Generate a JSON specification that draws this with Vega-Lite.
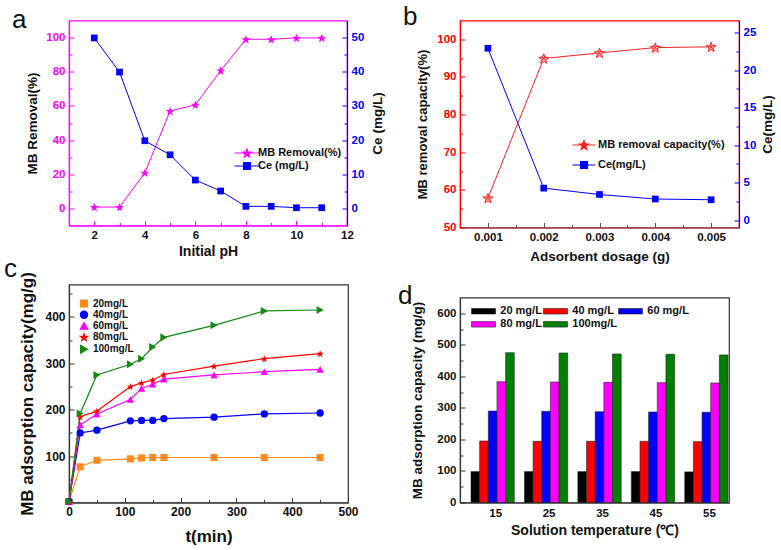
{
"$schema": "https://vega.github.io/schema/vega-lite/v6.json",
"background": "white",
"padding": {"left": 3, "top": 3.5, "right": 5, "bottom": 3},
"config": {
  "font": "Liberation Sans",
  "view": {"stroke": "#333", "strokeWidth": 1.2},
  "axis": {"grid": false, "labelFont": "Liberation Sans", "labelFontWeight": "bold", "labelFontSize": 11.5, "titleFont": "Liberation Sans", "titleFontWeight": "bold", "titleFontSize": 14, "labelColor": "#111", "titleColor": "#111", "domainColor": "#333", "tickColor": "#333", "labelFlush": false, "labelOverlap": false, "labelPadding": 9, "domainWidth": 1.2, "tickWidth": 1},
  "legend": {"labelFont": "Liberation Sans", "labelFontWeight": "bold", "labelColor": "#111", "padding": 0},
  "title": {"font": "Liberation Sans", "fontWeight": "normal", "fontSize": 26, "color": "#111", "anchor": "start", "frame": "group", "baseline": "alphabetic", "offset": 0}
},
"datasets": {
  "pa": [
    {"pH": 2, "series": "MB Removal(%)", "value": 0.8}, {"pH": 3, "series": "MB Removal(%)", "value": 0.8},
    {"pH": 4, "series": "MB Removal(%)", "value": 20.9}, {"pH": 5, "series": "MB Removal(%)", "value": 57.0},
    {"pH": 6, "series": "MB Removal(%)", "value": 60.7}, {"pH": 7, "series": "MB Removal(%)", "value": 80.7},
    {"pH": 8, "series": "MB Removal(%)", "value": 99.0}, {"pH": 9, "series": "MB Removal(%)", "value": 99.0},
    {"pH": 10, "series": "MB Removal(%)", "value": 99.8}, {"pH": 11, "series": "MB Removal(%)", "value": 99.8},
    {"pH": 2, "series": "Ce (mg/L)", "value": 49.9}, {"pH": 3, "series": "Ce (mg/L)", "value": 39.9},
    {"pH": 4, "series": "Ce (mg/L)", "value": 19.8}, {"pH": 5, "series": "Ce (mg/L)", "value": 15.7},
    {"pH": 6, "series": "Ce (mg/L)", "value": 8.3}, {"pH": 7, "series": "Ce (mg/L)", "value": 5.1},
    {"pH": 8, "series": "Ce (mg/L)", "value": 0.6}, {"pH": 9, "series": "Ce (mg/L)", "value": 0.6},
    {"pH": 10, "series": "Ce (mg/L)", "value": 0.2}, {"pH": 11, "series": "Ce (mg/L)", "value": 0.2}
  ],
  "pb": [
    {"dose": 0.001, "series": "MB removal capacity(%)", "value": 57.8}, {"dose": 0.002, "series": "MB removal capacity(%)", "value": 94.9},
    {"dose": 0.003, "series": "MB removal capacity(%)", "value": 96.4}, {"dose": 0.004, "series": "MB removal capacity(%)", "value": 97.8},
    {"dose": 0.005, "series": "MB removal capacity(%)", "value": 98.0},
    {"dose": 0.001, "series": "Ce(mg/L)", "value": 22.9}, {"dose": 0.002, "series": "Ce(mg/L)", "value": 4.25},
    {"dose": 0.003, "series": "Ce(mg/L)", "value": 3.4}, {"dose": 0.004, "series": "Ce(mg/L)", "value": 2.8},
    {"dose": 0.005, "series": "Ce(mg/L)", "value": 2.7}
  ],
  "pc": [
    {"t": 0, "series": "20mg/L", "value": 2}, {"t": 20, "series": "20mg/L", "value": 77}, {"t": 50, "series": "20mg/L", "value": 91}, {"t": 110, "series": "20mg/L", "value": 94}, {"t": 130, "series": "20mg/L", "value": 96}, {"t": 150, "series": "20mg/L", "value": 97}, {"t": 170, "series": "20mg/L", "value": 97}, {"t": 260, "series": "20mg/L", "value": 97}, {"t": 350, "series": "20mg/L", "value": 97}, {"t": 450, "series": "20mg/L", "value": 97},
    {"t": 0, "series": "40mg/L", "value": 2}, {"t": 20, "series": "40mg/L", "value": 150}, {"t": 50, "series": "40mg/L", "value": 156}, {"t": 110, "series": "40mg/L", "value": 176}, {"t": 130, "series": "40mg/L", "value": 177}, {"t": 150, "series": "40mg/L", "value": 177}, {"t": 170, "series": "40mg/L", "value": 181}, {"t": 260, "series": "40mg/L", "value": 184}, {"t": 350, "series": "40mg/L", "value": 191}, {"t": 450, "series": "40mg/L", "value": 193},
    {"t": 0, "series": "60mg/L", "value": 2}, {"t": 20, "series": "60mg/L", "value": 167}, {"t": 50, "series": "60mg/L", "value": 191}, {"t": 110, "series": "60mg/L", "value": 222}, {"t": 130, "series": "60mg/L", "value": 246}, {"t": 150, "series": "60mg/L", "value": 255}, {"t": 170, "series": "60mg/L", "value": 266}, {"t": 260, "series": "60mg/L", "value": 275}, {"t": 350, "series": "60mg/L", "value": 282}, {"t": 450, "series": "60mg/L", "value": 287},
    {"t": 0, "series": "80mg/L", "value": 2}, {"t": 20, "series": "80mg/L", "value": 185}, {"t": 50, "series": "80mg/L", "value": 197}, {"t": 110, "series": "80mg/L", "value": 250}, {"t": 130, "series": "80mg/L", "value": 258}, {"t": 150, "series": "80mg/L", "value": 264}, {"t": 170, "series": "80mg/L", "value": 276}, {"t": 260, "series": "80mg/L", "value": 294}, {"t": 350, "series": "80mg/L", "value": 310}, {"t": 450, "series": "80mg/L", "value": 321},
    {"t": 0, "series": "100mg/L", "value": 2}, {"t": 20, "series": "100mg/L", "value": 192}, {"t": 50, "series": "100mg/L", "value": 275}, {"t": 110, "series": "100mg/L", "value": 298}, {"t": 130, "series": "100mg/L", "value": 310}, {"t": 150, "series": "100mg/L", "value": 335}, {"t": 170, "series": "100mg/L", "value": 356}, {"t": 260, "series": "100mg/L", "value": 382}, {"t": 350, "series": "100mg/L", "value": 413}, {"t": 450, "series": "100mg/L", "value": 415}
  ],
  "pd": [
    {"temp": "15", "conc": "20 mg/L", "value": 98}, {"temp": "15", "conc": "40 mg/L", "value": 195}, {"temp": "15", "conc": "60 mg/L", "value": 290}, {"temp": "15", "conc": "80 mg/L", "value": 383}, {"temp": "15", "conc": "100mg/L", "value": 475},
    {"temp": "25", "conc": "20 mg/L", "value": 98}, {"temp": "25", "conc": "40 mg/L", "value": 194}, {"temp": "25", "conc": "60 mg/L", "value": 289}, {"temp": "25", "conc": "80 mg/L", "value": 382}, {"temp": "25", "conc": "100mg/L", "value": 474},
    {"temp": "35", "conc": "20 mg/L", "value": 98}, {"temp": "35", "conc": "40 mg/L", "value": 194}, {"temp": "35", "conc": "60 mg/L", "value": 288}, {"temp": "35", "conc": "80 mg/L", "value": 381}, {"temp": "35", "conc": "100mg/L", "value": 471},
    {"temp": "45", "conc": "20 mg/L", "value": 98}, {"temp": "45", "conc": "40 mg/L", "value": 194}, {"temp": "45", "conc": "60 mg/L", "value": 287}, {"temp": "45", "conc": "80 mg/L", "value": 380}, {"temp": "45", "conc": "100mg/L", "value": 470},
    {"temp": "55", "conc": "20 mg/L", "value": 97}, {"temp": "55", "conc": "40 mg/L", "value": 193}, {"temp": "55", "conc": "60 mg/L", "value": 286}, {"temp": "55", "conc": "80 mg/L", "value": 379}, {"temp": "55", "conc": "100mg/L", "value": 468}
  ]
},
"spacing": 391,
"bounds": "flush",
"resolve": {"scale": {"color": "independent", "shape": "independent", "size": "independent"}, "legend": {"color": "independent"}},
"hconcat": [
{
 "spacing": 59,
 "bounds": "flush",
 "resolve": {"scale": {"color": "independent", "shape": "independent", "size": "independent"}, "legend": {"color": "independent"}},
 "vconcat": [
 {
  "width": 278, "height": 205,
  "view": {"stroke": "#ff00ff", "strokeWidth": 1.2},
  "title": {"text": "a", "dx": -57, "dy": 16.5},
  "data": {"name": "pa"},
  "encoding": {
    "x": {"field": "pH", "type": "quantitative", "scale": {"domain": [1, 12], "nice": false, "zero": false},
          "axis": {"title": "Initial pH", "titlePadding": 1, "values": [2,3,4,5,6,7,8,9,10,11,12], "labelExpr": "datum.value % 2 == 0 ? datum.label : ''",
                   "tickSize": {"condition": {"test": "datum.value % 2 == 0", "value": -5}, "value": -3},
                   "domainColor": "#ff00ff", "tickColor": "#ff00ff", "titleFontSize": 14}},
    "color": {"field": "series", "type": "nominal", "scale": {"domain": ["MB Removal(%)", "Ce (mg/L)"], "range": ["#ff00ff", "#0000ff"]},
      "legend": {"orient": "none", "legendX": 172, "legendY": 126.5, "title": null, "symbolSize": 100, "labelFontSize": 11, "labelOffset": 5, "rowPadding": 0,
        "encode": {"symbols": {"update": {
          "shape": {"signal": "datum.value == 'MB Removal(%)' ? 'M-2.5,0L2.5,0M0,-0.815L0.212,-0.206L0.856,-0.193L0.342,0.197L0.529,0.814L0,0.446L-0.529,0.814L-0.342,0.197L-0.856,-0.193L-0.212,-0.206Z' : 'M-2.5,0L2.5,0M-0.7,-0.7L0.7,-0.7L0.7,0.7L-0.7,0.7Z'"},
          "fill": {"signal": "datum.value == 'MB Removal(%)' ? '#ff00ff' : '#0000ff'"},
          "stroke": {"signal": "datum.value == 'MB Removal(%)' ? '#ff00ff' : '#0000ff'"},
          "strokeWidth": {"value": 1.1}, "strokeOpacity": {"value": 1}, "opacity": {"value": 1}, "fillOpacity": {"value": 1}}}}}}
  },
  "layer": [
    {"transform": [{"filter": "datum.series == 'MB Removal(%)'"}],
     "encoding": {"y": {"field": "value", "type": "quantitative", "scale": {"domain": [-10, 110], "nice": false, "zero": false},
        "axis": {"orient": "left", "title": "MB Removal(%)", "titleFontSize": 13.5, "titlePadding": 6, "values": [0,10,20,30,40,50,60,70,80,90,100], "labelExpr": "datum.value % 20 == 0 ? datum.label : ''",
                 "tickSize": {"condition": {"test": "datum.value % 20 == 0", "value": -5}, "value": -3},
                 "labelColor": "#ff00ff", "domainColor": "#ff00ff", "tickColor": "#ff00ff"}}},
     "layer": [
       {"mark": {"type": "line", "strokeWidth": 1}},
       {"mark": {"type": "point", "shape": "M0,-0.905L0.235,-0.229L0.951,-0.214L0.38,0.219L0.588,0.904L0,0.495L-0.588,0.904L-0.38,0.219L-0.951,-0.214L-0.235,-0.229Z", "size": 90, "filled": true, "opacity": 1}}
     ]},
    {"transform": [{"filter": "datum.series == 'Ce (mg/L)'"}],
     "encoding": {"y": {"field": "value", "type": "quantitative", "scale": {"domain": [-5, 55], "nice": false, "zero": false},
        "axis": {"orient": "right", "title": "Ce (mg/L)", "titleAngle": 270, "titleBaseline": "top", "titlePadding": 7, "titleFontSize": 13.5, "values": [0,5,10,15,20,25,30,35,40,45,50], "labelExpr": "datum.value % 10 == 0 ? datum.label : ''",
                 "tickSize": {"condition": {"test": "datum.value % 10 == 0", "value": -5}, "value": -3},
                 "labelColor": "#0000ff", "domainColor": "#0000ff", "tickColor": "#0000ff"}}},
     "layer": [
       {"mark": {"type": "line", "strokeWidth": 1}},
       {"mark": {"type": "point", "shape": "square", "size": 45, "filled": true, "opacity": 1}}
     ]}
  ],
  "resolve": {"scale": {"y": "independent"}}
 },
 {
  "width": 279, "height": 218,
  "title": {"text": "c", "dx": -65, "dy": 14.7},
  "data": {"name": "pc"},
  "encoding": {
    "x": {"field": "t", "type": "quantitative", "scale": {"domain": [0, 500], "nice": false},
          "axis": {"title": "t(min)", "titleFontSize": 17, "titlePadding": 9, "labelFontSize": 12, "values": [0,50,100,150,200,250,300,350,400,450,500], "labelExpr": "datum.value % 100 == 0 ? datum.label : ''",
                   "tickSize": {"condition": {"test": "datum.value % 100 == 0", "value": -5}, "value": -3}}},
    "y": {"field": "value", "type": "quantitative", "scale": {"domain": [0, 470], "nice": false},
          "axis": {"title": "MB adsorption capacity(mg/g)", "titleFontSize": 17, "titlePadding": 8, "labelFontSize": 12, "values": [50,100,150,200,250,300,350,400,450], "labelExpr": "datum.value % 100 == 0 ? datum.label : ''",
                   "tickSize": {"condition": {"test": "datum.value % 100 == 0", "value": -5}, "value": -3}}},
    "color": {"field": "series", "type": "nominal", "scale": {"domain": ["20mg/L", "40mg/L", "60mg/L", "80mg/L", "100mg/L"], "range": ["#ff8a1e", "#0000ff", "#ff00ff", "#ff0000", "#108a10"]},
      "legend": {"orient": "none", "legendX": 10, "legendY": 14, "title": null, "symbolSize": 64, "labelFontSize": 10, "labelOffset": 4, "rowPadding": -0.8,
        "encode": {"symbols": {"update": {
          "shape": {"signal": "datum.value == '20mg/L' ? 'M-2.2,0L2.2,0M-0.85,-0.85L0.85,-0.85L0.85,0.85L-0.85,0.85Z' : datum.value == '40mg/L' ? 'M-2.2,0L2.2,0M0.95,0L0.823,0.475L0.475,0.823L0,0.95L-0.475,0.823L-0.823,0.475L-0.95,0L-0.823,-0.475L-0.475,-0.823L0,-0.95L0.475,-0.823L0.823,-0.475Z' : datum.value == '60mg/L' ? 'M-2.2,0L2.2,0M0,-1.05L1.1,0.85L-1.1,0.85Z' : datum.value == '80mg/L' ? 'M-2.2,0L2.2,0M0,-0.996L0.259,-0.252L1.046,-0.235L0.418,0.241L0.647,0.994L0,0.545L-0.647,0.994L-0.418,0.241L-1.046,-0.235L-0.259,-0.252Z' : 'M-2.2,0L2.2,0M-0.9,-1.15L1.25,0L-0.9,1.15Z'"},
          "fill": {"signal": "datum.value == '20mg/L' ? '#ff8a1e' : datum.value == '40mg/L' ? '#0000ff' : datum.value == '60mg/L' ? '#ff00ff' : datum.value == '80mg/L' ? '#ff0000' : '#108a10'"},
          "stroke": {"signal": "datum.value == '20mg/L' ? '#ff8a1e' : datum.value == '40mg/L' ? '#0000ff' : datum.value == '60mg/L' ? '#ff00ff' : datum.value == '80mg/L' ? '#ff0000' : '#108a10'"},
          "strokeWidth": {"value": 1.1}, "strokeOpacity": {"value": 1}, "opacity": {"value": 1}, "fillOpacity": {"value": 1}}}}}}
  },
  "layer": [
    {"mark": {"type": "line", "strokeWidth": 1.2}},
    {"mark": {"type": "point", "filled": true, "opacity": 1},
     "encoding": {
       "shape": {"field": "series", "type": "nominal", "legend": null, "scale": {"domain": ["20mg/L", "40mg/L", "60mg/L", "80mg/L", "100mg/L"], "range": ["square", "circle", "triangle-up", "M0,-0.905L0.235,-0.229L0.951,-0.214L0.38,0.219L0.588,0.904L0,0.495L-0.588,0.904L-0.38,0.219L-0.951,-0.214L-0.235,-0.229Z", "triangle-right"]}},
       "size": {"field": "series", "type": "nominal", "legend": null, "scale": {"domain": ["20mg/L", "40mg/L", "60mg/L", "80mg/L", "100mg/L"], "range": [50, 65, 70, 110, 95]}}
     }}
  ]
 }
 ]
},
{
 "spacing": 70,
 "bounds": "flush",
 "resolve": {"scale": {"color": "independent", "shape": "independent", "size": "independent"}, "legend": {"color": "independent"}},
 "vconcat": [
 {
  "width": 279, "height": 207,
  "view": {"stroke": "#ff0000", "strokeWidth": 1.2},
  "title": {"text": "b", "dx": -57, "dy": 13.7},
  "data": {"name": "pb"},
  "encoding": {
    "x": {"field": "dose", "type": "quantitative", "scale": {"domain": [0.0005, 0.0055], "nice": false, "zero": false},
          "axis": {"title": "Adsorbent dosage (g)", "titleFontSize": 13.5, "format": ".3f", "values": [0.001,0.0015,0.002,0.0025,0.003,0.0035,0.004,0.0045,0.005], "labelExpr": "abs(datum.value*1000 - round(datum.value*1000)) < 0.01 ? datum.label : ''",
                   "tickSize": {"condition": {"test": "abs(datum.value*1000 - round(datum.value*1000)) < 0.01", "value": -5}, "value": -3},
                   "domainColor": "#555", "tickColor": "#555"}},
    "color": {"field": "series", "type": "nominal", "scale": {"domain": ["MB removal capacity(%)", "Ce(mg/L)"], "range": ["#ff2020", "#0000ff"]},
      "legend": {"orient": "none", "legendX": 118, "legendY": 118.5, "title": null, "symbolSize": 100, "labelFontSize": 11, "labelOffset": 8, "rowPadding": 7,
        "encode": {"symbols": {"update": {
          "shape": {"signal": "datum.value == 'Ce(mg/L)' ? 'M-2.3,0L2.3,0M-0.7,-0.7L0.7,-0.7L0.7,0.7L-0.7,0.7Z' : 'M-2.3,0L-0.95,0M0.95,0L2.3,0M0,-0.905L0.235,-0.229L0.951,-0.214L0.38,0.219L0.588,0.904L0,0.495L-0.588,0.904L-0.38,0.219L-0.951,-0.214L-0.235,-0.229ZM-0.4,-0.4L0.4,0.4M0.4,-0.4L-0.4,0.4'"},
          "fill": {"signal": "datum.value == 'Ce(mg/L)' ? '#0000ff' : '#ffb8b8'"},
          "stroke": {"signal": "datum.value == 'Ce(mg/L)' ? '#0000ff' : '#ff2020'"},
          "strokeWidth": {"value": 1.1}, "strokeOpacity": {"value": 1}, "opacity": {"value": 1}, "fillOpacity": {"value": 1}}}}}}
  },
  "layer": [
    {"transform": [{"filter": "datum.series == 'MB removal capacity(%)'"}],
     "encoding": {"y": {"field": "value", "type": "quantitative", "scale": {"domain": [50, 105], "nice": false, "zero": false},
        "axis": {"orient": "left", "title": "MB removal capacity(%)", "titleFontSize": 13, "titlePadding": 7, "values": [50,55,60,65,70,75,80,85,90,95,100], "labelExpr": "datum.value % 10 == 0 ? datum.label : ''",
                 "tickSize": {"condition": {"test": "datum.value % 10 == 0", "value": -5}, "value": -3},
                 "labelColor": "#ff0000", "domainColor": "#ff0000", "tickColor": "#ff0000"}}},
     "layer": [
       {"mark": {"type": "line", "strokeWidth": 1}},
       {"mark": {"type": "point", "shape": "M0,-0.905L0.235,-0.229L0.951,-0.214L0.38,0.219L0.588,0.904L0,0.495L-0.588,0.904L-0.38,0.219L-0.951,-0.214L-0.235,-0.229ZM-0.4,-0.4L0.4,0.4M0.4,-0.4L-0.4,0.4", "size": 110, "filled": false, "fill": "#ffb8b8", "fillOpacity": 1, "strokeWidth": 1, "opacity": 1}}
     ]},
    {"transform": [{"filter": "datum.series == 'Ce(mg/L)'"}],
     "encoding": {"y": {"field": "value", "type": "quantitative", "scale": {"domain": [-1, 26.6], "nice": false, "zero": false},
        "axis": {"orient": "right", "title": "Ce(mg/L)", "titleAngle": 270, "titleBaseline": "top", "titlePadding": 5, "titleFontSize": 13.5, "values": [0,2.5,5,7.5,10,12.5,15,17.5,20,22.5,25], "labelExpr": "datum.value % 5 == 0 ? datum.label : ''",
                 "tickSize": {"condition": {"test": "datum.value % 5 == 0", "value": -5}, "value": -3},
                 "labelColor": "#0000ff", "domainColor": "#0000ff", "tickColor": "#0000ff"}}},
     "layer": [
       {"mark": {"type": "line", "strokeWidth": 1}},
       {"mark": {"type": "point", "shape": "square", "size": 45, "filled": true, "opacity": 1}}
     ]}
  ],
  "resolve": {"scale": {"y": "independent"}}
 },
 {
  "width": 269, "height": 205,
  "title": {"text": "d", "dx": -62, "dy": 15},
  "data": {"name": "pd"},
  "mark": {"type": "bar", "stroke": "#222", "strokeWidth": 0.6},
  "encoding": {
    "x": {"field": "temp", "type": "ordinal", "scale": {"type": "band", "paddingInner": 0.19, "paddingOuter": 0.112, "align": 0.92},
          "axis": {"title": "Solution temperature (℃)", "titleFontSize": 14, "labelAngle": 0, "ticks": false, "labelPadding": 5, "labelOffset": 3}},
    "xOffset": {"field": "conc", "type": "nominal", "scale": {"domain": ["20 mg/L", "40 mg/L", "60 mg/L", "80 mg/L", "100mg/L"]}},
    "y": {"field": "value", "type": "quantitative", "scale": {"domain": [0, 650], "nice": false},
          "axis": {"title": "MB adsorption capacity (mg/g)", "titleFontSize": 13.5, "titlePadding": 12, "values": [0,50,100,150,200,250,300,350,400,450,500,550,600], "labelExpr": "datum.value % 100 == 0 ? datum.label : ''",
                   "tickSize": {"condition": {"test": "datum.value % 100 == 0", "value": -5}, "value": -3}}},
    "color": {"field": "conc", "type": "nominal", "scale": {"domain": ["20 mg/L", "40 mg/L", "60 mg/L", "80 mg/L", "100mg/L"], "range": ["#000000", "#ff0000", "#0000ff", "#ff00ff", "#007f00"]},
      "legend": {"orient": "none", "direction": "horizontal", "legendX": 18, "legendY": 8, "title": null, "columns": 3, "gridAlign": "each", "columnPadding": 0, "rowPadding": 1.3, "symbolSize": 64,
                 "symbolType": "M-3,-0.69L3,-0.69L3,0.69L-3,0.69Z", "symbolStrokeColor": "#222", "symbolStrokeWidth": 0.6, "labelFontSize": 11, "labelOffset": 11.3}}
  }
 }
 ]
}
]
}
